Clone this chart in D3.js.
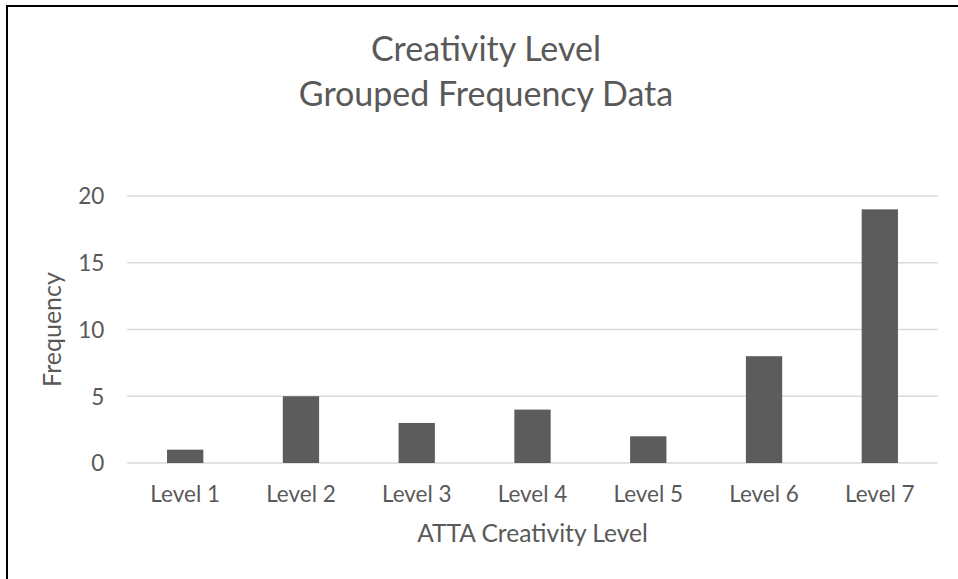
<!DOCTYPE html>
<html>
<head>
<meta charset="utf-8">
<script src="https://cdn.jsdelivr.net/npm/d3@7/dist/d3.min.js"></script>
<style>
  html, body { margin: 0; padding: 0; background: #ffffff; }
  svg { display: block; }
  text { font-family: Lato, "Liberation Sans", sans-serif; fill: #595959; }
</style>
</head>
<body>
<svg id="chart" width="958" height="579"></svg>
<script>
// ---- data ----
const categories = ["Level 1", "Level 2", "Level 3", "Level 4", "Level 5", "Level 6", "Level 7"];
const frequencies = [1, 5, 3, 4, 2, 8, 19];
const yTicks = [0, 5, 10, 15, 20];
const titleLines = ["Creativity Level", "Grouped Frequency Data"];
const xAxisTitle = "ATTA Creativity Level";
const yAxisTitle = "Frequency";

// ---- layout ----
const W = 958, H = 579;
const plot = { left: 127.3, right: 937.7, top: 196, bottom: 463 };

const svg = d3.select("#chart");

// frame (only top and left edges visible in crop)
svg.append("rect")
  .attr("x", 7).attr("y", 6)
  .attr("width", W + 20).attr("height", H + 20)
  .attr("fill", "#ffffff")
  .attr("stroke", "#000000")
  .attr("stroke-width", 2);

const x = d3.scaleBand()
  .domain(categories)
  .range([plot.left, plot.right])
  .paddingInner(0.6865)
  .paddingOuter(0.34325);

const y = d3.scaleLinear()
  .domain([0, 20])
  .range([plot.bottom, plot.top]);

// gridlines
svg.append("g")
  .selectAll("line")
  .data(yTicks)
  .join("line")
  .attr("x1", plot.left).attr("x2", plot.right)
  .attr("y1", d => y(d)).attr("y2", d => y(d))
  .attr("stroke", "#d9d9d9")
  .attr("stroke-width", 1.5);

// y axis labels
const yAxis = d3.axisLeft(y).tickValues(yTicks).tickSize(0).tickPadding(0);
const gy = svg.append("g")
  .attr("transform", `translate(${plot.left - 23},0)`)
  .call(yAxis);
gy.select(".domain").remove();
gy.selectAll("text")
  .style("font-family", "Lato, 'Liberation Sans', sans-serif")
  .style("font-size", "22.5px")
  .attr("fill", "#595959")
  .attr("dy", "0.35em");

// bars
svg.append("g")
  .selectAll("rect")
  .data(categories.map((c, i) => ({ c, v: frequencies[i] })))
  .join("rect")
  .attr("x", d => x(d.c))
  .attr("width", x.bandwidth())
  .attr("y", d => y(d.v))
  .attr("height", d => y(0) - y(d.v))
  .attr("fill", "#5c5c5c");

// x axis labels
const xAxis = d3.axisBottom(x).tickSize(0).tickPadding(0);
const gx = svg.append("g")
  .attr("transform", `translate(0,${plot.bottom})`)
  .call(xAxis);
gx.select(".domain").remove();
gx.selectAll("text")
  .style("font-family", "Lato, 'Liberation Sans', sans-serif")
  .style("font-size", "22.5px")
  .attr("fill", "#595959")
  .attr("y", 38.5)
  .attr("dy", null);

// title
svg.append("text")
  .attr("text-anchor", "middle")
  .attr("font-size", "34px")
  .selectAll("tspan")
  .data(titleLines)
  .join("tspan")
  .attr("x", 486)
  .attr("y", (d, i) => 61 + i * 45)
  .text(d => d);

// x axis title
svg.append("text")
  .attr("text-anchor", "middle")
  .attr("font-size", "24.6px")
  .attr("x", (plot.left + plot.right) / 2)
  .attr("y", 542)
  .text(xAxisTitle);

// y axis title
svg.append("text")
  .attr("text-anchor", "middle")
  .attr("font-size", "25px")
  .attr("transform", `translate(61,${(plot.top + plot.bottom) / 2}) rotate(-90)`)
  .text(yAxisTitle);
</script>
</body>
</html>
